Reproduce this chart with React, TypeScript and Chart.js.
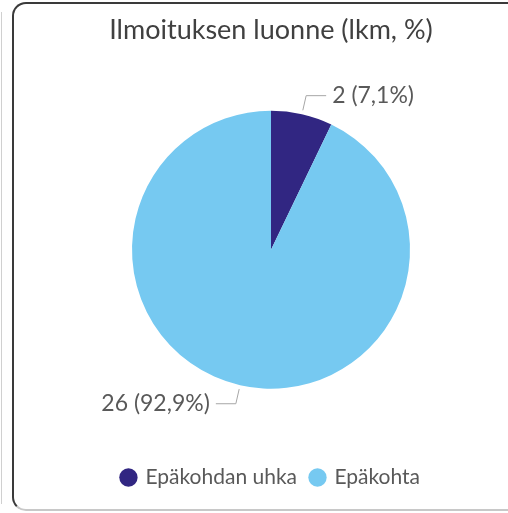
import React, { useEffect, useRef } from "react";
import { Chart, registerables } from "chart.js";

Chart.register(...registerables);

const categories = ["Epäkohdan uhka", "Epäkohta"];
const counts = [2, 26];
const percents = ["7,1%", "92,9%"];
const colors = ["#312682", "#76C9F1"];
const titleText = "Ilmoituksen luonne (lkm, %)";

const FONT = "Lato, 'Open Sans', sans-serif";

const leaderPlugin = {
  id: "leaderLabels",
  afterDatasetsDraw(chart: any) {
    const meta = chart.getDatasetMeta(0);
    const ctx = chart.ctx;
    ctx.save();
    meta.data.forEach((arc: any, i: number) => {
      const { x, y, startAngle, endAngle, outerRadius } = arc.getProps(
        ["x", "y", "startAngle", "endAngle", "outerRadius"],
        true
      );
      const mid = (startAngle + endAngle) / 2;
      const c = Math.cos(mid);
      const s = Math.sin(mid);
      const r1 = outerRadius + 4;
      const r2 = outerRadius + 19;
      const x1 = x + c * r1;
      const y1 = y + s * r1;
      const x2 = x + c * r2;
      const y2 = y + s * r2;
      const dir = c >= 0 ? 1 : -1;
      const x3 = x2 + dir * 20;
      ctx.strokeStyle = "#a6a6a6";
      ctx.lineWidth = 1;
      ctx.beginPath();
      ctx.moveTo(x1, y1);
      ctx.lineTo(x2, y2);
      ctx.lineTo(x3, y2);
      ctx.stroke();
      ctx.fillStyle = "#595959";
      ctx.font = `23px ${FONT}`;
      ctx.textBaseline = "middle";
      ctx.textAlign = dir > 0 ? "left" : "right";
      ctx.fillText(`${counts[i]} (${percents[i]})`, x3 + dir * 6, y2);
    });
    ctx.restore();
  },
};

export default function App() {
  const ref = useRef<HTMLCanvasElement>(null);
  useEffect(() => {
    if (!ref.current) return;
    const chart = new Chart(ref.current, {
      type: "pie",
      data: {
        labels: categories,
        datasets: [
          {
            data: counts,
            backgroundColor: colors,
            borderWidth: 0,
          },
        ],
      },
      options: {
        animation: false,
        responsive: false,
        radius: 139,
        layout: { padding: { left: 34, right: 0, top: 0, bottom: 15 } },
        plugins: {
          tooltip: { enabled: false },
          title: {
            display: true,
            text: titleText,
            color: "#404040",
            font: { family: FONT, size: 27, weight: "normal" },
            padding: { top: 14, bottom: 0 },
          },
          legend: {
            position: "bottom",
            labels: {
              usePointStyle: true,
              pointStyle: "circle",
              boxWidth: 13,
              boxHeight: 13,
              padding: 14,
              color: "#595959",
              font: { family: FONT, size: 21 },
            },
          },
        },
      } as any,
      plugins: [leaderPlugin],
    });
    return () => chart.destroy();
  }, []);

  return (
    <div style={{ position: "fixed", left: 0, top: 0, width: 508, height: 513, background: "#fff", overflow: "hidden" }}>
      <div style={{ position: "absolute", left: 1, top: 12, width: 1, height: 492, background: "#d0d0d0" }} />
      <div
        style={{
          position: "absolute",
          left: 12,
          top: 2,
          width: 520,
          height: 505,
          border: "2px solid #3a3a3a",
          borderBottomColor: "#c8c8c8",
          borderRadius: 14,
        }}
      />
      <canvas ref={ref} width={508} height={513} style={{ position: "absolute", left: 0, top: 0 }} />
    </div>
  );
}
